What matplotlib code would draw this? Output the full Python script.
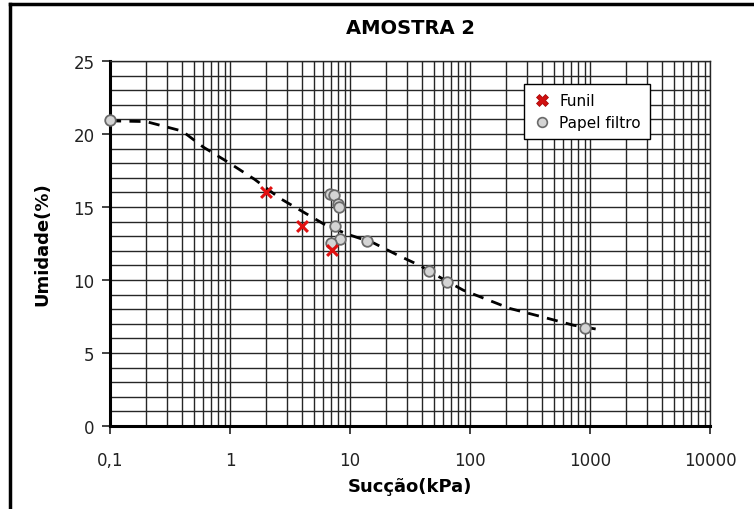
import numpy as np
import matplotlib.pyplot as plt
from matplotlib.ticker import LogLocator, MultipleLocator, FixedFormatter, FixedLocator, NullFormatter
from matplotlib.lines import Line2D

# Funil (funnel) measurements
funil_x = [2.0, 4.0, 7.1]
funil_y = [16.0, 13.7, 12.05]

# Papel filtro (filter paper) measurements
papel_x = [0.1, 6.8, 7.3, 7.9, 8.1, 7.5, 8.25, 6.9, 13.9, 45.5, 64.0, 900.0]
papel_y = [20.95, 15.9, 15.85, 15.2, 15.0, 13.7, 12.8, 12.55, 12.65, 10.6, 9.85, 6.7]

# fitted retention curve
curve_x = [0.1, 0.2, 0.4, 0.6, 0.95, 1.6, 2.6, 4.0, 6.0, 9.4, 15.6, 25, 38, 60, 88, 215, 410, 730, 1200]
curve_y = [20.9, 20.85, 20.2, 19.1, 18.1, 16.9, 15.6, 14.7, 13.85, 13.15, 12.55, 11.7, 11.0, 10.05, 9.3, 8.05, 7.45, 6.9, 6.6]

x_ticks = [0.1, 1, 10, 100, 1000, 10000]
x_ticklabels = ["0,1", "1", "10", "100", "1000", "10000"]

W, H = 754, 510
fig = plt.figure(figsize=(W / 100, H / 100), dpi=100)
ax = fig.add_axes([110 / W, 1 - 427 / H, 600 / W, 365 / H])

ax.set_xscale("log")
ax.set_xlim(0.1, 10000)
ax.set_ylim(0, 25)

ax.xaxis.set_major_locator(FixedLocator(x_ticks))
ax.xaxis.set_major_formatter(FixedFormatter(x_ticklabels))
ax.xaxis.set_minor_locator(LogLocator(base=10, subs=np.arange(2, 10)))
ax.xaxis.set_minor_formatter(NullFormatter())
ax.yaxis.set_major_locator(MultipleLocator(5))
ax.yaxis.set_minor_locator(MultipleLocator(1))

ax.grid(which="both", axis="both", color="#262626", lw=1.0)
ax.set_axisbelow(True)

ax.tick_params(which="major", direction="out", length=6, width=1.2, color="#222222",
               labelsize=12, labelcolor="#222222", pad=12)
ax.tick_params(axis="y", which="major", pad=5)
ax.tick_params(which="minor", length=0)

for side in ["left", "bottom"]:
    ax.spines[side].set_linewidth(2.2)
    ax.spines[side].set_color("black")
for side in ["top", "right"]:
    ax.spines[side].set_linewidth(1.0)
    ax.spines[side].set_color("#262626")

ax.plot(curve_x, curve_y, color="black", lw=2.0, ls=(0, (4, 3)), zorder=3)
ax.scatter(papel_x, papel_y, s=58, marker="o", facecolor="#d4d4d4",
           edgecolor="#6a6a6a", linewidth=1.3, zorder=4, clip_on=False)
ax.scatter(funil_x, funil_y, s=60, marker="x", color="#e01010", linewidth=2.2, zorder=5)

ax.set_title("AMOSTRA 2", fontsize=14, fontweight="bold", pad=20)
ax.set_xlabel("Sucção(kPa)", fontsize=13, fontweight="bold", labelpad=6)
ax.set_ylabel("Umidade(%)", fontsize=13, fontweight="bold", labelpad=16)

handles = [
    Line2D([], [], ls="none", marker="X", markersize=9, markerfacecolor="#d01010",
           markeredgecolor="#a00000", markeredgewidth=0.5),
    Line2D([], [], ls="none", marker="o", markersize=7, markerfacecolor="#d4d4d4",
           markeredgecolor="#6a6a6a", markeredgewidth=1.2),
]
leg = ax.legend(handles, ["Funil", "Papel filtro"], loc="upper left",
                bbox_to_anchor=(0.69, 0.937), borderaxespad=0, fontsize=11,
                fancybox=False, framealpha=1, edgecolor="black", handletextpad=0.5,
                handlelength=1.2, borderpad=0.6, labelspacing=0.45)
leg.get_frame().set_linewidth(1.0)

# outer frame (top and left edges)
fig.add_artist(Line2D([10 / W, 10 / W], [0, 1 - 5 / H], color="black", lw=2.5,
                      transform=fig.transFigure))
fig.add_artist(Line2D([10 / W, 1], [1 - 5 / H, 1 - 5 / H], color="black", lw=2.5,
                      transform=fig.transFigure))

fig.savefig("out.png", dpi=100, facecolor="white")
